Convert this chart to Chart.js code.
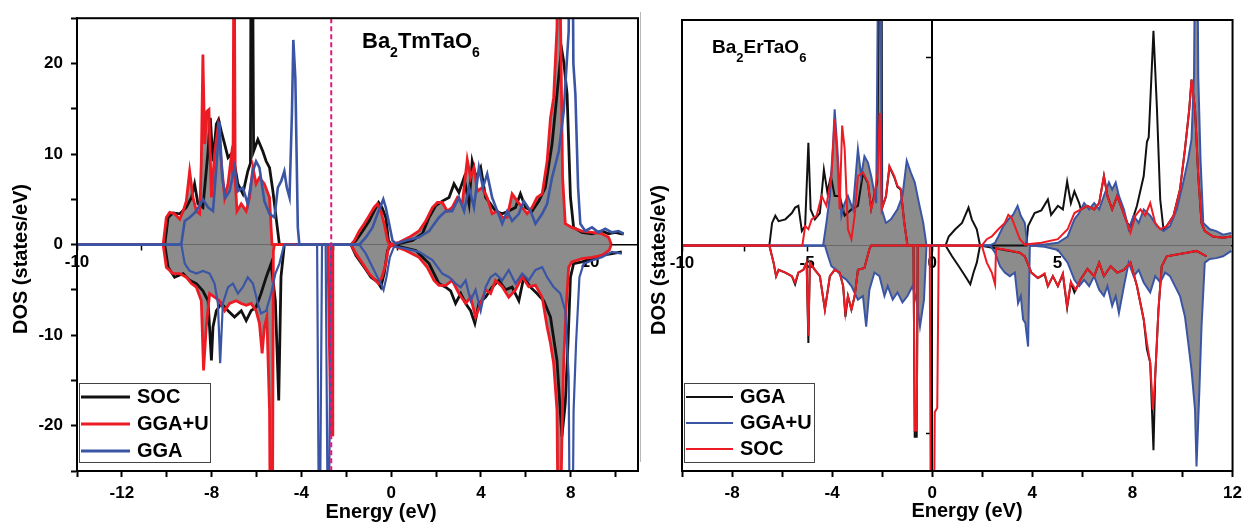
<!DOCTYPE html>
<html>
<head>
<meta charset="utf-8">
<script src="https://cdn.jsdelivr.net/npm/chart.js@4"></script>
<style>
  body { margin: 0; background: #fff; width: 1248px; height: 527px; overflow: hidden; position: relative; }
  .panel { position: absolute; top: 0; height: 527px; }
  #left { left: 0; width: 640px; }
  #right { left: 640px; width: 608px; }
  #sep { position: absolute; left: 640px; top: 12px; width: 1px; height: 450px; background: #b8b8b8; }
</style>
</head>
<body>
<div class="panel" id="left"><canvas id="tm"></canvas></div>
<div class="panel" id="right"><canvas id="er"></canvas></div>
<div id="sep"></div>
<script>
// ---- Ba2TmTaO6 : [energy (eV), DOS] ----
const tmMethods = ['SOC', 'GGA+U', 'GGA'];
const tmRefLine = -2.67; // dashed marker

const tmSocUp = [[-14,0],[-10.09,0],[-9.94,3.0],[-9.72,3.5],[-9.42,3.4],[-9.13,4.1],[-8.9,5.2],[-8.76,6.7],[-8.61,4.5],[-8.39,4.1],
  [-8.16,10.3],[-8.06,14.0],[-7.94,9.2],[-7.79,13.3],[-7.69,13.8],[-7.57,12.5],[-7.42,11.1],[-7.27,9.6],[-7.13,10.0],[-6.98,8.9],
  [-6.83,6.7],[-6.61,5.6],[-6.39,8.1],[-6.27,9],[-6.24,40],[-6.19,40],[-6.13,10.3],[-5.94,11.6],[-5.72,10.3],[-5.57,9.2],[-5.42,8.5],
  [-5.27,5.9],[-5.13,3.0],[-4.98,0],[-1.79,0],[-1.57,0.45],[-1.27,1.5],[-0.98,2.6],[-0.76,3.7],[-0.56,4.65],[-0.41,4.1],[-0.24,3.0],
  [-0.12,0.45],[0,0],[0.36,0.1],[0.95,0.45],[1.39,1.2],[1.69,3.0],[1.99,4.3],[2.28,4.8],[2.58,5.2],[2.8,6.7],[3.02,5.75],[3.25,7.4],
  [3.47,4.5],[3.61,9.2],[3.79,7.4],[3.99,8.5],[4.21,5.2],[4.43,4.5],[4.65,3.7],[4.95,3.4],[5.24,3.7],[5.54,4.1],[5.76,5.6],[5.99,4.1],
  [6.28,3.7],[6.58,4.8],[6.87,6.3],[7.17,11.1],[7.39,16.6],[7.59,21.7],[7.69,20.2],[7.84,16.6],[7.99,5.2],[8.13,1.9],[8.5,1.35],
  [8.95,1.2],[9.39,1.5],[9.69,1.2],[9.98,1.35],[10.28,1.2],[10.36,1.2]];
const tmSocDn = [[-14,0],[-10.09,0],[-9.94,-2.5],[-9.65,-3.6],[-9.27,-3.2],[-8.98,-3.95],[-8.68,-4.3],[-8.39,-5.1],[-8.16,-6.2],[-8.01,-12.8],
  [-7.94,-9.1],[-7.79,-7.3],[-7.57,-6.5],[-7.27,-7.3],[-6.98,-8.0],[-6.68,-7.3],[-6.46,-8.4],[-6.24,-7.3],[-6.02,-6.9],[-5.8,-5.4],
  [-5.57,-3.6],[-5.35,-2.1],[-5.16,-6.2],[-5.01,-17.2],[-4.91,-3.6],[-4.76,0],[-1.79,0],[-1.57,-1.2],[-1.2,-2.5],[-0.9,-3.6],[-0.61,-4.1],
  [-0.46,-4.7],[-0.31,-3.2],[-0.16,-0.65],[0,0],[1.1,-0.65],[1.69,-2.1],[2.13,-4.3],[2.43,-4.7],[2.65,-5.1],[2.87,-6.5],[3.1,-5.4],
  [3.32,-6.5],[3.54,-7.3],[3.73,-8.7],[3.91,-6.5],[4.21,-5.8],[4.5,-4.7],[4.8,-3.95],[5.1,-5.0],[5.39,-4.7],[5.69,-6.2],[5.91,-3.6],
  [6.21,-4.7],[6.5,-5.4],[6.8,-6.2],[7.1,-8.0],[7.39,-12.8],[7.61,-21.2],[7.76,-17.5],[7.88,-10.9],[7.99,-3.6],[8.13,-2.1],[8.5,-1.9],
  [8.95,-1.6],[9.39,-1.2],[9.84,-1.0],[10.28,-0.8]];
const tmGgauUp = [[-14,0],[-10.16,0],[-10.02,3.0],[-9.87,3.55],[-9.65,3.4],[-9.42,2.8],[-9.27,3.7],[-9.13,4.8],[-8.98,8.1],[-8.83,5.2],
  [-8.68,3.7],[-8.53,3.4],[-8.46,9.2],[-8.39,21.0],[-8.31,11.1],[-8.21,14.7],[-8.12,14.9],[-8.01,5.2],[-7.87,10.0],[-7.72,12.9],
  [-7.57,9.2],[-7.42,5.2],[-7.27,6.7],[-7.13,9.6],[-7.05,7.4],[-7.0,40],[-6.95,7],[-6.87,3.7],[-6.68,4.5],[-6.46,3.7],[-6.31,5.2],
  [-6.16,8.5],[-6.02,6.7],[-5.87,7.4],[-5.65,6.7],[-5.42,5.2],[-5.31,0],[-1.79,0],[-1.64,0.45],[-1.42,1.5],[-1.2,2.3],[-0.98,3.2],
  [-0.76,4.1],[-0.61,4.5],[-0.46,3.7],[-0.31,2.3],[-0.16,0.45],[-0.09,0.07],[0.06,0.07],[0.36,0.25],[0.8,0.8],[1.24,1.5],[1.54,2.6],
  [1.84,4.1],[2.06,4.65],[2.28,4.65],[2.5,3.7],[2.72,4.1],[2.95,5.2],[3.17,4.5],[3.39,9.4],[3.54,7.4],[3.69,8.5],[3.84,5.9],[4.06,6.3],
  [4.28,5.2],[4.5,3.4],[4.73,3.7],[4.95,3.0],[5.17,3.0],[5.39,5.6],[5.62,4.8],[5.84,4.1],[6.06,3.4],[6.28,4.1],[6.5,5.2],[6.73,5.6],
  [6.95,9.2],[7.1,14.0],[7.24,16.2],[7.39,24],[7.45,40],[7.52,30],[7.64,7.4],[7.76,2.3],[8.05,1.9],[8.5,1.5],[8.95,1.35],[9.39,1.2],
  [9.69,0.8],[9.81,0]];
const tmGgauDn = [[-14,0],[-10.16,0],[-10.02,-2.5],[-9.72,-3.2],[-9.42,-3.2],[-9.13,-3.6],[-8.9,-4.3],[-8.68,-4.7],[-8.46,-6.2],[-8.36,-13.9],
  [-8.24,-9.1],[-8.09,-5.4],[-7.87,-5.8],[-7.65,-6.2],[-7.42,-7.3],[-7.2,-6.5],[-6.91,-6.2],[-6.68,-6.5],[-6.46,-6.7],[-6.24,-6.5],
  [-6.02,-7.3],[-5.87,-8.7],[-5.75,-12.0],[-5.65,-9.1],[-5.54,-8.0],[-5.42,-18.3],[-5.37,-40],[-5.3,-40],[-5.25,-0.7],[-5.2,0],
  [-2.82,0],[-2.76,-10],[-2.68,-21],[-2.62,-21],[-2.6,0],[-1.79,0],[-1.57,-1.0],[-1.27,-2.1],[-0.98,-3.2],[-0.76,-3.8],[-0.56,-4.3],
  [-0.41,-3.6],[-0.24,-2.1],[-0.12,-0.3],[0.06,-0.1],[0.65,-0.65],[1.24,-1.4],[1.61,-2.5],[1.91,-3.95],[2.13,-4.5],[2.43,-4.5],
  [2.72,-3.95],[3.02,-5.4],[3.32,-6.5],[3.54,-5.8],[3.76,-8.0],[3.99,-6.5],[4.21,-5.0],[4.43,-5.4],[4.65,-3.95],[4.95,-4.65],[5.24,-5.8],
  [5.54,-5.0],[5.84,-3.55],[6.13,-4.65],[6.43,-4.5],[6.73,-5.8],[6.95,-9.1],[7.1,-10.9],[7.24,-13.1],[7.39,-18.3],[7.47,-40],[7.55,-30],
  [7.62,-20],[7.69,-12.8],[7.79,-7.3],[7.91,-2.5],[8.05,-1.9],[8.5,-1.55],[8.95,-1.4],[9.39,-1.2],[9.72,-0.6],[9.81,0]];
const tmGgaUp = [[-14,0],[-9.5,0],[-9.35,0.1],[-9.2,2.6],[-8.98,3.0],[-8.68,3.7],[-8.39,5.0],[-8.16,4.1],[-7.94,3.7],[-7.79,8.5],
  [-7.65,13.6],[-7.53,7.4],[-7.38,5.2],[-7.2,5.9],[-6.98,8.5],[-6.83,5.9],[-6.61,6.3],[-6.39,4.5],[-6.16,8.1],[-6.02,9.2],[-5.87,8.5],
  [-5.65,4.8],[-5.42,3.4],[-5.2,3.0],[-5.05,6.3],[-4.9,7.0],[-4.76,8.1],[-4.65,6.3],[-4.53,5.2],[-4.42,14.7],[-4.36,22.6],[-4.27,18.4],
  [-4.16,1.9],[-4.09,0],[-1.42,0],[-1.13,0.8],[-0.83,1.9],[-0.61,3.4],[-0.46,4.3],[-0.35,5.0],[-0.24,4.1],[-0.09,2.3],[0.06,0.45],
  [0.21,0.1],[0.65,0.45],[1.24,0.8],[1.69,1.5],[2.13,3.0],[2.43,3.7],[2.72,3.7],[3.02,5.2],[3.25,3.7],[3.47,6.3],[3.69,4.1],[3.91,8.5],
  [4.09,6.3],[4.28,7.8],[4.5,5.2],[4.73,3.7],[4.95,2.3],[5.17,3.7],[5.39,2.6],[5.69,3.4],[5.91,4.8],[6.21,3.7],[6.43,2.3],[6.73,3.4],
  [6.95,4.5],[7.17,7.4],[7.47,10.3],[7.69,14.7],[7.91,23.5],[7.97,40],[8.07,40],[8.12,20],[8.21,16.6],[8.33,6.3],[8.43,2.3],[8.65,1.5],
  [8.95,1.9],[9.24,1.35],[9.54,1.75],[9.84,1.35],[10.13,1.5],[10.36,1.2]];
const tmGgaDn = [[-14,0],[-9.5,0],[-9.35,0],[-9.2,-2.1],[-8.98,-2.9],[-8.68,-3.2],[-8.39,-2.9],[-8.09,-3.2],[-7.87,-4.3],[-7.72,-6.5],
  [-7.62,-13.1],[-7.5,-6.5],[-7.27,-4.7],[-7.05,-4.3],[-6.83,-5.4],[-6.61,-4.7],[-6.39,-3.6],[-6.16,-4.3],[-5.94,-6.5],[-5.8,-7.6],
  [-5.57,-7.3],[-5.35,-5.4],[-5.16,-3.2],[-4.98,-2.1],[-4.83,-0.6],[-4.76,0],[-3.3,0],[-3.2,-40],[-3.08,0],[-2.92,0],[-2.8,-40],
  [-2.68,0],[-1.42,0],[-1.13,-1.0],[-0.83,-2.5],[-0.61,-3.6],[-0.46,-4.3],[-0.34,-5.0],[-0.21,-3.6],[-0.06,-1.4],[0.13,-0.2],
  [0.65,-0.45],[1.24,-0.8],[1.84,-1.7],[2.28,-3.2],[2.58,-3.6],[2.87,-4.3],[3.1,-4.7],[3.32,-3.95],[3.54,-6.2],[3.76,-5.0],[3.99,-7.3],
  [4.21,-4.7],[4.43,-3.6],[4.65,-3.2],[4.95,-3.95],[5.24,-2.8],[5.54,-4.3],[5.84,-3.2],[6.13,-3.95],[6.43,-2.8],[6.73,-2.5],[6.95,-3.6],
  [7.24,-4.7],[7.54,-5.4],[7.76,-7.3],[7.91,-14.6],[7.98,-40],[8.06,-40],[8.13,-18.3],[8.24,-10.9],[8.39,-3.6],[8.58,-2.1],[8.95,-1.75],
  [9.39,-1.4],[9.84,-0.8],[10.28,-1.0]];

// ---- Ba2ErTaO6 : [energy (eV), DOS] ----
const erMethods = ['GGA', 'GGA+U', 'SOC'];

const erGgaUp = [[-10,0],[-6.51,0],[-6.4,2.5],[-6.27,3.3],[-6.14,2.7],[-5.87,2.9],[-5.61,3.6],[-5.48,4.2],[-5.35,4.4],[-5.21,1.6],
  [-5.08,2.15],[-4.95,11.4],[-4.86,4.0],[-4.69,2.9],[-4.49,3.6],[-4.33,8.4],[-4.19,5.9],[-4.05,7.7],[-3.9,5.5],[-3.7,5.5],[-3.5,3.3],
  [-3.23,4.0],[-2.97,4.4],[-2.77,8.0],[-2.57,6.9],[-2.44,4.1],[-2.2,7.0],[-2.1,40],[-2.03,40],[-2.0,4.2],[-1.85,5.4],[-1.71,8.7],
  [-1.52,7.6],[-1.39,6.5],[-1.26,6.2],[-1.12,2.6],[-0.99,0],[0.53,0],[0.66,1.0],[0.92,1.8],[1.19,2.5],[1.45,4.2],[1.58,2.9],[1.78,1.8],
  [1.91,0],[3.76,0],[3.83,2.15],[4.09,3.6],[4.36,3.9],[4.62,5.1],[4.75,3.4],[5.02,4.4],[5.22,4.0],[5.39,7.1],[5.54,4.7],[5.68,6.0],
  [5.87,4.7],[5.94,4.0],[6.2,4.4],[6.47,4.0],[6.67,4.7],[6.86,7.7],[7.0,5.5],[7.19,4.0],[7.39,5.5],[7.59,4.0],[7.79,2.5],[7.92,2.15],
  [8.18,4.4],[8.45,7.7],[8.58,11.5],[8.65,12.0],[8.84,23.8],[8.98,15.1],[9.11,5.1],[9.24,1.8],[9.37,2.15],[9.64,3.3],[9.9,6.2],
  [10.1,10.7],[10.27,15.1],[10.36,18.4],[10.5,15.1],[10.63,7.7],[10.76,2.5],[10.89,1.6],[11.22,1.0],[11.62,0.85],[11.95,1.0]];
const erGgaDn = [[-10,0],[-6.51,0],[-6.34,-1.9],[-6.24,-3.4],[-6.14,-2.7],[-5.87,-3.0],[-5.61,-3.4],[-5.48,-4.3],[-5.35,-3.0],[-5.15,-2.7],
  [-5.02,-1.9],[-4.95,-10.8],[-4.89,-1.9],[-4.69,-2.7],[-4.49,-3.4],[-4.29,-7.1],[-4.09,-3.4],[-3.9,-2.7],[-3.7,-3.0],[-3.56,-4.5],
  [-3.47,-7.9],[-3.37,-5.6],[-3.23,-7.1],[-3.1,-5.6],[-2.97,-2.7],[-2.71,-2.5],[-2.51,-0.4],[-2.44,0],[-0.75,0],[-0.7,-21.2],
  [-0.62,-21.2],[-0.58,0],[0.53,0],[0.79,-1.2],[1.06,-2.3],[1.32,-3.4],[1.52,-4.3],[1.65,-3.0],[1.78,-1.9],[1.91,0],[3.5,-0.8],
  [3.7,-1.2],[3.96,-3.0],[4.22,-3.6],[4.49,-3.2],[4.62,-4.5],[4.82,-3.4],[5.02,-4.5],[5.22,-3.2],[5.39,-6.9],[5.54,-4.1],[5.68,-5.2],
  [5.94,-3.7],[6.2,-2.6],[6.47,-3.4],[6.67,-1.9],[6.86,-3.4],[7.13,-2.3],[7.39,-3.0],[7.66,-2.7],[7.92,-1.9],[8.18,-4.5],[8.45,-8.2],
  [8.58,-11.5],[8.71,-13.0],[8.84,-22.7],[8.91,-14.5],[9.04,-7.1],[9.17,-2.3],[9.37,-1.2],[9.77,-1.0],[10.17,-0.8],[10.56,-0.6],[10.96,-1.2]];
const erGgauUp = [[-10,0],[-4.36,0],[-4.23,2.5],[-4.09,5.5],[-3.96,11.4],[-3.9,15.1],[-3.79,10.7],[-3.63,3.3],[-3.5,4.7],[-3.37,5.5],
  [-3.17,4.0],[-2.97,10.7],[-2.84,7.7],[-2.71,9.9],[-2.57,9.2],[-2.44,7.7],[-2.24,4.7],[-2.14,40],[-2.06,40],[-2.02,4.0],[-1.85,2.5],
  [-1.65,2.9],[-1.39,4.0],[-1.19,5.5],[-1.02,9.4],[-0.86,8.1],[-0.7,7.0],[-0.53,4.7],[-0.36,2.5],[-0.23,0],[2.31,0],[2.51,0.3],
  [2.64,1.0],[2.84,2.15],[3.04,2.9],[3.23,3.4],[3.41,4.4],[3.54,3.3],[3.7,2.5],[3.8,0.1],[4.49,0.1],[5.02,0.3],[5.41,1.0],[5.68,2.9],
  [5.87,3.6],[6.07,4.7],[6.27,4.0],[6.47,4.7],[6.67,4.0],[6.86,5.5],[7.06,7.0],[7.19,6.2],[7.33,7.0],[7.46,5.5],[7.66,4.0],[7.85,1.8],
  [8.05,3.3],[8.25,2.5],[8.45,4.0],[8.71,3.3],[8.98,2.15],[9.24,1.6],[9.5,2.15],[9.77,4.0],[10.03,7.0],[10.23,9.6],[10.36,11.8],
  [10.46,18.8],[10.52,40],[10.58,40],[10.63,18.8],[10.72,9.6],[10.83,2.5],[11.09,1.8],[11.35,1.6],[11.62,1.2],[11.95,1.4]];
const erGgauDn = [[-10,0],[-4.29,0],[-4.16,-1.2],[-4.03,-2.3],[-3.83,-2.7],[-3.63,-3.4],[-3.43,-3.8],[-3.23,-4.5],[-2.97,-6.0],[-2.77,-5.6],
  [-2.64,-9.0],[-2.51,-4.9],[-2.31,-3.0],[-2.11,-3.4],[-1.91,-5.6],[-1.78,-4.5],[-1.58,-6.0],[-1.39,-5.2],[-1.19,-6.3],[-0.99,-5.6],
  [-0.79,-4.5],[-0.62,-6.3],[-0.49,-9.0],[-0.33,-6.0],[-0.23,0],[2.31,0],[2.51,-0.8],[2.71,-2.3],[2.9,-3.0],[3.1,-3.4],[3.3,-3.0],
  [3.43,-6.4],[3.54,-5.6],[3.63,-8.2],[3.72,-8.6],[3.83,-11.2],[3.9,0],[4.49,-0.15],[5.02,-0.5],[5.41,-1.9],[5.68,-3.8],[5.87,-4.5],
  [6.07,-3.8],[6.27,-4.5],[6.47,-3.4],[6.67,-4.9],[6.86,-5.6],[7.0,-4.5],[7.19,-6.7],[7.33,-5.6],[7.46,-7.5],[7.66,-4.5],[7.85,-1.9],
  [8.05,-3.4],[8.25,-2.7],[8.45,-4.1],[8.71,-5.2],[8.91,-3.4],[9.11,-4.1],[9.31,-3.0],[9.5,-3.4],[9.7,-4.5],[9.9,-5.6],[10.1,-7.9],
  [10.23,-10.8],[10.36,-13.8],[10.5,-18.2],[10.56,-24.5],[10.67,-16.4],[10.76,-9.0],[10.89,-1.9],[11.09,-1.5],[11.35,-1.4],[11.62,-1.2],
  [11.95,-0.6]];
const erSocUp = [[-10,0],[-5.19,0],[-5.08,2.15],[-4.95,1.8],[-4.82,2.9],[-4.62,3.3],[-4.42,5.5],[-4.23,4.4],[-4.03,7.7],[-3.9,14.0],
  [-3.79,9.6],[-3.7,4.0],[-3.6,13.3],[-3.5,10.7],[-3.37,1.8],[-3.23,0.7],[-3.1,3.3],[-2.97,7.7],[-2.77,8.1],[-2.57,7.0],[-2.44,4.0],
  [-2.31,5.5],[-2.18,8.1],[-2.1,14.7],[-2.02,4.0],[-1.85,5.5],[-1.71,8.8],[-1.52,7.7],[-1.39,6.6],[-1.26,6.3],[-1.12,2.5],[-0.99,0],
  [1.98,0],[2.18,0.7],[2.38,1.0],[2.64,1.8],[2.9,2.5],[3.04,3.4],[3.17,3.1],[3.3,2.15],[3.5,0.7],[3.7,0.1],[4.36,0.3],[5.02,0.7],
  [5.41,1.8],[5.68,3.6],[5.94,4.0],[6.2,4.4],[6.47,4.0],[6.67,4.7],[6.86,7.7],[7.0,5.5],[7.19,4.0],[7.39,5.5],[7.59,4.0],[7.79,2.5],
  [7.92,1.4],[8.12,3.3],[8.32,4.0],[8.51,3.3],[8.71,4.7],[8.91,2.5],[9.11,1.8],[9.37,2.15],[9.64,3.3],[9.9,6.2],[10.1,10.7],[10.27,15.1],
  [10.36,18.4],[10.5,15.1],[10.63,7.7],[10.76,2.5],[10.89,1.6],[11.22,1.0],[11.62,0.85],[11.95,1.0]];
const erSocDn = [[-10,0],[-6.51,0],[-6.34,-1.9],[-6.24,-3.4],[-6.14,-2.7],[-5.87,-3.0],[-5.61,-3.4],[-5.48,-4.1],[-5.35,-3.0],[-5.15,-2.7],
  [-5.02,-1.9],[-4.95,-10.0],[-4.89,-1.9],[-4.69,-2.7],[-4.49,-3.4],[-4.29,-7.1],[-4.09,-3.4],[-3.9,-2.7],[-3.7,-3.0],[-3.56,-4.5],
  [-3.47,-7.5],[-3.37,-5.6],[-3.23,-7.1],[-3.1,-5.6],[-2.97,-2.7],[-2.71,-2.5],[-2.51,-0.4],[-2.44,0],[-0.75,0],[-0.7,-20.5],
  [-0.62,-20.5],[-0.58,0],[-0.1,0],[-0.05,-40],[0.05,-40],[0.1,-18.5],[0.2,-18.0],[0.26,0],[1.98,0],[2.18,-1.9],[2.38,-3.0],[2.51,-4.3],
  [2.55,-0.3],[3.0,-0.5],[3.5,-0.8],[3.7,-1.2],[3.96,-3.0],[4.22,-3.6],[4.49,-3.1],[4.62,-4.5],[4.82,-3.4],[5.02,-4.5],[5.22,-3.1],
  [5.39,-6.7],[5.54,-4.1],[5.74,-4.9],[5.94,-3.7],[6.2,-2.6],[6.47,-3.4],[6.67,-1.9],[6.86,-3.4],[7.13,-2.3],[7.39,-3.0],[7.66,-2.7],
  [7.92,-1.9],[8.18,-4.5],[8.45,-8.2],[8.58,-10.8],[8.71,-13.0],[8.82,-18.2],[8.91,-14.5],[9.04,-7.1],[9.17,-2.3],[9.37,-1.2],
  [9.77,-1.0],[10.17,-0.8],[10.56,-0.6],[10.96,-1.2]];

const fontFam = '"Liberation Sans", Arial, Helvetica, sans-serif';
const black = '#111111', red = '#ed1c24', blue = '#3b55a5', gray = '#8c8c8c';

function curve(label, pts, color, width, filled, order) {
  return {
    label: label,
    data: pts.map(p => ({ x: p[0], y: p[1] })),
    borderColor: color,
    borderWidth: width,
    backgroundColor: gray,
    fill: filled ? 'origin' : false,
    pointRadius: 0,
    tension: 0,
    order: order,
    xAxisID: 'x',
    yAxisID: 'y'
  };
}

function bold(size) { return { family: fontFam, size: size, weight: 'bold' }; }

// legend box, formula title, axis titles, frame and markers
function decoPlugin(spec) {
  return {
    id: 'deco',
    afterDatasetsDraw(chart) {
      const c = chart.ctx, a = chart.chartArea;
      c.save();
      if (spec.dashAt !== undefined) {
        const px = chart.scales.x.getPixelForValue(spec.dashAt);
        c.strokeStyle = '#e4187c';
        c.lineWidth = 2;
        c.setLineDash([5, 3]);
        c.beginPath(); c.moveTo(px, a.top); c.lineTo(px, a.bottom); c.stroke();
        c.setLineDash([]);
      }
      // frame round the plot
      c.strokeStyle = '#000';
      c.lineWidth = 2;
      c.strokeRect(a.left, a.top, a.right - a.left, a.bottom - a.top);

      // legend
      const L = spec.legend;
      c.fillStyle = '#fff';
      c.fillRect(L.x, L.y, L.w, L.h);
      c.strokeStyle = '#444';
      c.lineWidth = 1;
      c.strokeRect(L.x + 0.5, L.y + 0.5, L.w, L.h);
      c.font = 'bold 20px ' + fontFam;
      c.textBaseline = 'middle';
      c.textAlign = 'left';
      L.rows.forEach((r, i) => {
        const y = L.y + L.first + i * L.step;
        c.strokeStyle = r.color;
        c.lineWidth = L.lw;
        c.beginPath(); c.moveTo(L.x + 2, y); c.lineTo(L.x + L.len, y); c.stroke();
        c.fillStyle = '#000';
        c.fillText(r.label, L.x + L.len + L.gap, y);
      });

      // compound name with subscripts
      const F = spec.formula;
      let x = F.x;
      c.textBaseline = 'alphabetic';
      F.parts.forEach(p => {
        c.font = 'bold ' + (p[1] ? F.small : F.big) + 'px ' + fontFam;
        c.fillText(p[0], x, p[1] ? F.y + F.drop : F.y);
        x += c.measureText(p[0]).width;
      });

      // axis titles
      c.font = 'bold 20px ' + fontFam;
      c.textAlign = 'center';
      c.fillText('Energy (eV)', spec.xTitle[0], spec.xTitle[1]);
      c.translate(spec.yTitle[0], spec.yTitle[1]);
      c.rotate(-Math.PI / 2);
      c.textBaseline = 'middle';
      c.fillText('DOS (states/eV)', 0, 0);
      c.restore();
    }
  };
}

function axisStyle(extra) {
  return Object.assign({
    type: 'linear',
    grid: { drawOnChartArea: false, tickLength: 6, tickWidth: 2, tickColor: '#000' },
    border: { color: '#000', width: 2 },
    ticks: { color: '#000', font: bold(17), autoSkip: false, includeBounds: false, maxRotation: 0 }
  }, extra);
}

// ---------------- left panel ----------------
new Chart(document.getElementById('tm'), {
  type: 'line',
  data: {
    datasets: [
      curve(tmMethods[2], tmGgaUp, blue, 2.6, false, 0),
      curve(tmMethods[2], tmGgaDn, blue, 2.2, false, 0),
      curve(tmMethods[1], tmGgauUp, red, 2.8, true, 1),
      curve(tmMethods[1], tmGgauDn, red, 2.8, true, 1),
      curve(tmMethods[0], tmSocUp, black, 2.8, false, 2),
      curve(tmMethods[0], tmSocDn, black, 2.8, false, 2)
    ]
  },
  options: {
    responsive: true,
    maintainAspectRatio: false,
    animation: false,
    layout: { padding: { top: 16, right: 2, left: 0, bottom: 0 } },
    plugins: {
      legend: { display: false },
      tooltip: { enabled: false },
      filler: { drawTime: 'beforeDatasetsDraw' }
    },
    scales: {
      x: axisStyle({
        position: 'bottom', min: -14, max: 11,
        afterFit(s) { s.height = 56; },
        ticks: { color: '#000', font: bold(17), autoSkip: false, includeBounds: false, maxRotation: 0, padding: 6, stepSize: 2,
          callback: v => (v % 4 === 0 ? String(v) : '') }
      }),
      y: axisStyle({
        position: 'left', min: -25, max: 25,
        afterFit(s) { s.width = 77; },
        ticks: { color: '#000', font: bold(17), autoSkip: false, includeBounds: false, padding: 8, stepSize: 5,
          callback: v => (v % 10 === 0 ? String(v) : '') }
      }),
      x2: {
        type: 'linear', position: { y: 0 }, min: -10, max: 11.87,
        grid: { drawOnChartArea: false, tickLength: 5, tickWidth: 1.5, tickColor: '#000' },
        border: { color: '#000', width: 1.5 },
        ticks: { color: '#000', font: bold(17), autoSkip: false, includeBounds: false, maxRotation: 0, padding: 3, stepSize: 2.5,
          callback: v => (Math.abs(v) === 10 ? String(v) : '') }
      }
    }
  },
  plugins: [decoPlugin({
    dashAt: tmRefLine,
    legend: { x: 79, y: 383, w: 131, h: 79, first: 14, step: 27, len: 51, gap: 7, lw: 3,
      rows: [{ label: tmMethods[0], color: black }, { label: tmMethods[1], color: red }, { label: tmMethods[2], color: blue }] },
    formula: { x: 362, y: 48, big: 22, small: 14, drop: 9, parts: [['Ba', 0], ['2', 1], ['TmTaO', 0], ['6', 1]] },
    xTitle: [381, 518],
    yTitle: [21, 259]
  })]
});

// ---------------- right panel ----------------
new Chart(document.getElementById('er'), {
  type: 'line',
  data: {
    datasets: [
      curve(erMethods[2], erSocUp, red, 2, false, 0),
      curve(erMethods[2], erSocDn, red, 2, false, 0),
      curve(erMethods[1], erGgauUp, blue, 2, true, 1),
      curve(erMethods[1], erGgauDn, blue, 2, true, 1),
      curve(erMethods[0], erGgaUp, black, 2, false, 2),
      curve(erMethods[0], erGgaDn, black, 2, false, 2)
    ]
  },
  options: {
    responsive: true,
    maintainAspectRatio: false,
    animation: false,
    layout: { padding: { top: 20, right: 10, left: 0, bottom: 0 } },
    plugins: {
      legend: { display: false },
      tooltip: { enabled: false },
      filler: { drawTime: 'beforeDatasetsDraw' }
    },
    scales: {
      x: axisStyle({
        position: 'bottom', min: -10, max: 12,
        afterFit(s) { s.height = 56; },
        ticks: { color: '#000', font: bold(17), autoSkip: false, includeBounds: false, maxRotation: 0, padding: 6, stepSize: 2,
          callback: v => (v % 4 === 0 ? String(v) : '') }
      }),
      y: {
        type: 'linear', position: 'left', min: -25, max: 25,
        afterFit(s) { s.width = 42; },
        grid: { drawOnChartArea: false, drawTicks: false },
        border: { color: '#000', width: 2 },
        ticks: { display: false }
      },
      x2: {
        type: 'linear', position: { y: 0 }, min: -10, max: 12,
        grid: { drawOnChartArea: false, tickLength: 5, tickWidth: 1.5, tickColor: '#000' },
        border: { color: '#000', width: 1.5 },
        ticks: { color: '#000', font: bold(17), autoSkip: false, includeBounds: false, maxRotation: 0, padding: 3, stepSize: 2.5,
          callback: v => (v % 5 === 0 ? String(v) : '') }
      },
      y2: {
        type: 'linear', position: { x: 0 }, min: -24, max: 24,
        grid: { drawOnChartArea: false, tickLength: 5, tickWidth: 1.5, tickColor: '#000' },
        border: { color: '#000', width: 2 },
        ticks: { display: false, stepSize: 20, includeBounds: false }
      }
    }
  },
  plugins: [decoPlugin({
    legend: { x: 44, y: 383, w: 130, h: 79, first: 14, step: 26, len: 49, gap: 7, lw: 2,
      rows: [{ label: erMethods[0], color: black }, { label: erMethods[1], color: blue }, { label: erMethods[2], color: red }] },
    formula: { x: 72, y: 53, big: 19, small: 13, drop: 9, parts: [['Ba', 0], ['2', 1], ['ErTaO', 0], ['6', 1]] },
    xTitle: [327, 517],
    yTitle: [19, 260]
  })]
});
</script>
</body>
</html>
